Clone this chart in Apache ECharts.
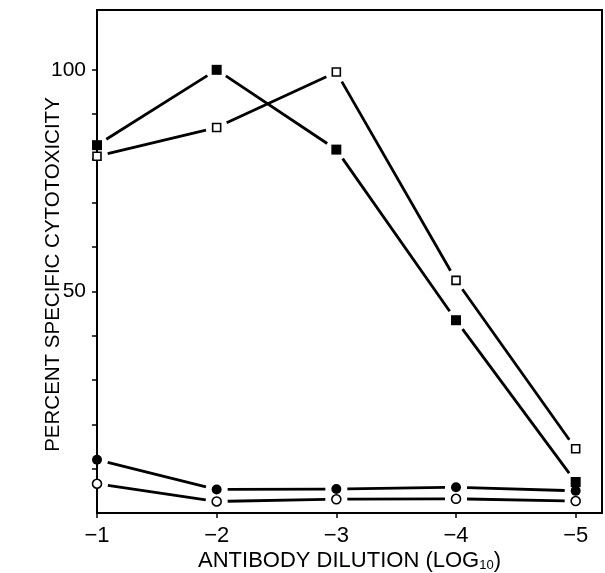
<!DOCTYPE html>
<html>
<head>
<meta charset="utf-8">
<script src="https://cdn.jsdelivr.net/npm/echarts@6/dist/echarts.min.js"></script>
<style>
  html, body { margin: 0; padding: 0; background: #fff; }
  #chart { width: 605px; height: 573px; }
</style>
</head>
<body>
<div id="chart"></div>
<script>
// dilution steps (log10)
const dilutions = [-1, -2, -3, -4, -5];
const xTicks = [-1, -2, -3, -4, -5];
const yTicks = [10, 20, 30, 40, 50, 60, 70, 80, 90, 100];
const yLabels = [50, 100];

// percent specific cytotoxicity
const filledSquare = [83, 100, 82, 43.5, 7];
const openSquare = [80.5, 87, 99.5, 52.5, 14.5];
const filledCircle = [12, 5.3, 5.4, 5.8, 5];
const openCircle = [6.6, 2.6, 3.1, 3.2, 2.7];

const font = 'Liberation Sans, Arial, Helvetica, sans-serif';
const GAP = 11; // px the line stops short of each point
const chart = echarts.init(document.getElementById('chart'));

function pts(vals) {
  return dilutions.map((d, i) => [d, vals[i]]);
}

// connecting segments, each one pulled back from both points
function lineOf(vals) {
  return {
    type: 'custom',
    data: pts(vals),
    silent: true,
    renderItem(params, api) {
      const i = params.dataIndex;
      if (i === 0) return null;
      const a = api.coord([dilutions[i - 1], vals[i - 1]]);
      const b = api.coord([dilutions[i], vals[i]]);
      const dx = b[0] - a[0], dy = b[1] - a[1];
      const len = Math.hypot(dx, dy);
      const ux = dx / len, uy = dy / len;
      return {
        type: 'line',
        shape: {
          x1: a[0] + ux * GAP, y1: a[1] + uy * GAP,
          x2: b[0] - ux * GAP, y2: b[1] - uy * GAP
        },
        style: { stroke: '#000', lineWidth: 2.8 }
      };
    }
  };
}

function marksOf(vals, symbol, size, filled) {
  return {
    type: 'scatter', data: pts(vals),
    symbol, symbolSize: size,
    itemStyle: filled
      ? { color: '#000', opacity: 1 }
      : { color: '#fff', borderColor: '#000', borderWidth: 1.6, opacity: 1 },
    silent: true
  };
}

const option = {
  animation: false,
  grid: {
    left: 97, right: 3, top: 10, bottom: 60,
    outerBoundsMode: 'none', containLabel: false,
    show: true, borderColor: '#000', borderWidth: 2
  },
  xAxis: {
    type: 'value',
    min: -5.22, max: -1,
    inverse: true,
    name: 'ANTIBODY DILUTION (LOG{sub|10})',
    nameLocation: 'middle',
    nameGap: 37,
    nameMoveOverlap: false,
    nameTextStyle: {
      color: '#000', fontFamily: font, fontSize: 22,
      rich: { sub: { fontSize: 13, fontFamily: font, color: '#000', verticalAlign: 'bottom', padding: [9, 0, 0, 0] } }
    },
    axisLine: { lineStyle: { color: '#000', width: 2 } },
    axisTick: { customValues: xTicks, length: 5, inside: false, lineStyle: { color: '#000', width: 1.5 } },
    axisLabel: {
      customValues: xTicks,
      formatter: v => '\u2212' + Math.abs(v),
      color: '#000', fontFamily: font, fontSize: 22, margin: 12
    },
    splitLine: { show: false }
  },
  yAxis: {
    type: 'value',
    min: 0, max: 113.5,
    name: 'PERCENT SPECIFIC CYTOTOXICITY',
    nameLocation: 'middle',
    nameGap: 33,
    nameMoveOverlap: false,
    nameTextStyle: { color: '#000', fontFamily: font, fontSize: 20.5, padding: [0, 26, 0, 0] },
    axisLine: { lineStyle: { color: '#000', width: 2 } },
    axisTick: { customValues: yTicks, length: 5, lineStyle: { color: '#000', width: 1.5 } },
    axisLabel: {
      customValues: yLabels,
      color: '#000', fontFamily: font, fontSize: 21, margin: 11
    },
    splitLine: { show: false }
  },
  series: [
    lineOf(filledSquare),
    lineOf(openSquare),
    lineOf(filledCircle),
    lineOf(openCircle),
    marksOf(filledSquare, 'rect', 10, true),
    marksOf(openSquare, 'rect', 8, false),
    marksOf(filledCircle, 'circle', 10, true),
    marksOf(openCircle, 'circle', 9, false)
  ]
};

chart.setOption(option);
</script>
</body>
</html>
